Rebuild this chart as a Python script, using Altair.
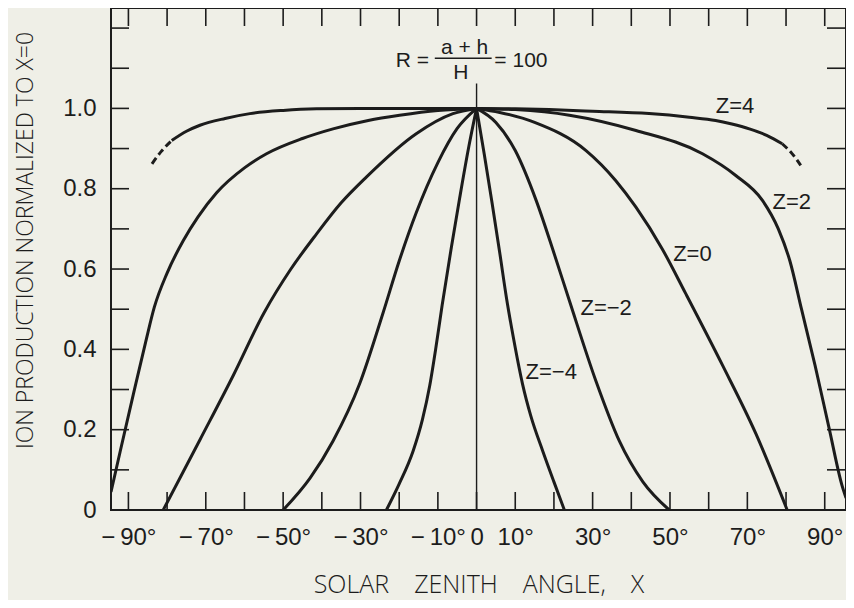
import altair as alt
import pandas as pd

INK = "#1c1c1c"
BG = "#efefe7"
NUM = "'Liberation Sans', Arial, sans-serif"
TITLE = "'Open Sans', 'DejaVu Sans', sans-serif"

# ---------------- data ----------------
x_ticks = [-90, -80, -70, -60, -50, -40, -30, -20, -10, 0, 10, 20, 30, 40, 50, 60, 70, 80, 90]
y_ticks = [0.1, 0.2, 0.3, 0.4, 0.5, 0.6, 0.7, 0.8, 0.9, 1.0, 1.1, 1.2]
x_label_values = [-90, -70, -50, -30, -10, 0, 10, 30, 50, 70, 90]
y_label_values = [0, 0.2, 0.4, 0.6, 0.8, 1.0]

# Z = 4 (solid middle part, dashed ends)
z4_x = [-78.8, -75, -71.5, -65, -58.6, -50, -41.4, -30, -15, 0, 10, 18.8, 30, 44.6, 55, 61.8, 66, 70.5, 75, 79]
z4_y = [0.920, 0.943, 0.958, 0.975, 0.987, 0.995, 0.999, 1.0, 1.0, 1.0, 0.999, 0.997, 0.993, 0.987, 0.978, 0.970, 0.961, 0.949, 0.933, 0.912]
z4_dash_left_x = [-83.9, -81.5, -78.8]
z4_dash_left_y = [0.862, 0.893, 0.920]
z4_dash_right_x = [79, 81.5, 83.8]
z4_dash_right_y = [0.912, 0.888, 0.858]

# Z = 2
z2_left_x = [-94.5, -92.1, -88.7, -85.5, -83.3, -80, -75.8, -72, -67.2, -60, -54.3, -45, -37.1, -28, -19.9, -10, 0]
z2_left_y = [0.045, 0.147, 0.289, 0.420, 0.505, 0.590, 0.671, 0.730, 0.790, 0.852, 0.887, 0.925, 0.949, 0.970, 0.983, 0.995, 1.0]
z2_right_x = [0, 10, 24, 41.2, 58.4, 67, 73.9, 78, 81, 84, 87.5, 91.1, 94.5, 95.5]
z2_right_y = [1.0, 0.997, 0.983, 0.945, 0.887, 0.833, 0.771, 0.700, 0.620, 0.500, 0.360, 0.205, 0.060, 0.030]

# Z = 0
z0_left_x = [-81, -71.5, -62.9, -55, -48, -41.4, -35, -28.5, -15.6, -6.1, 0]
z0_left_y = [0.0, 0.175, 0.335, 0.490, 0.600, 0.687, 0.765, 0.829, 0.937, 0.987, 1.0]
z0_right_x = [0, 6, 15, 28.3, 36, 41.2, 48, 54, 63.6, 72.2, 80.3]
z0_right_y = [1.0, 0.990, 0.965, 0.895, 0.820, 0.754, 0.650, 0.540, 0.360, 0.190, 0.0]

# Z = -2
zm2_left_x = [-50, -43, -37.1, -30.2, -24.2, -20, -15.6, -10, -5, 0]
zm2_left_y = [0.0, 0.080, 0.172, 0.315, 0.490, 0.620, 0.740, 0.865, 0.950, 1.0]
zm2_right_x = [0, 5, 10, 15.4, 20, 24, 30.9, 36.9, 43, 49.8]
zm2_right_y = [1.0, 0.965, 0.895, 0.771, 0.640, 0.521, 0.320, 0.172, 0.070, 0.0]

# Z = -4
zm4_left_x = [-23.3, -20, -16.4, -14, -12.1, -10.5, -8.9, -6.5, -4.4, -2, 0]
zm4_left_y = [0.0, 0.065, 0.147, 0.225, 0.310, 0.405, 0.510, 0.655, 0.775, 0.905, 1.0]
zm4_right_x = [0, 2, 4, 6, 7.7, 9.5, 11.9, 14, 17.1, 20, 22.7]
zm4_right_y = [1.0, 0.885, 0.765, 0.640, 0.530, 0.430, 0.313, 0.235, 0.147, 0.070, 0.0]

# curve labels
lab_text = ["Z=4", "Z=2", "Z=0", "Z=\u22122", "Z=\u22124"]
lab_x = [66.8, 81.5, 55.8, 33.5, 19.3]
lab_y = [1.006, 0.768, 0.637, 0.503, 0.344]

# formula R = (a+h)/H = 100
form_left_text = ["R ="]
form_left_x = [-12.3]
form_mid_text = ["a + h", "H"]
form_mid_x = [-3.1, -4.1]
form_mid_y = [1.150, 1.087]
form_right_text = ["= 100"]
form_right_x = [4.6]
form_row_y = [1.118]
bar_x = [-10.8]
bar_x2 = [3.9]
bar_y = [1.125]

center_x = [0]
center_y = [0]
center_y2 = [1.062]

# ---------------- build tables ----------------
solid_parts = [
    ("Z4", z4_x, z4_y),
    ("Z2L", z2_left_x, z2_left_y), ("Z2R", z2_right_x, z2_right_y),
    ("Z0L", z0_left_x, z0_left_y), ("Z0R", z0_right_x, z0_right_y),
    ("Zm2L", zm2_left_x, zm2_left_y), ("Zm2R", zm2_right_x, zm2_right_y),
    ("Zm4L", zm4_left_x, zm4_left_y), ("Zm4R", zm4_right_x, zm4_right_y),
]
dashed_parts = [
    ("Z4dL", z4_dash_left_x, z4_dash_left_y),
    ("Z4dR", z4_dash_right_x, z4_dash_right_y),
]


def to_df(parts):
    rows = []
    for name, xs_, ys_ in parts:
        for i, (a, b) in enumerate(zip(xs_, ys_)):
            rows.append({"part": name, "x": a, "y": b, "order": i})
    return pd.DataFrame(rows)


solid_df = to_df(solid_parts)
dashed_df = to_df(dashed_parts)

W, H = 735, 502
xs = alt.Scale(domain=[-94.5, 95.5], nice=False, zero=False)
ys = alt.Scale(domain=[0, 1.25], nice=False, zero=True)

x_axis = alt.Axis(
    values=x_label_values,
    labelExpr="datum.value == 0 ? '0' : (datum.value < 0 ? '\u2212\u2009' + abs(datum.value) + '\u00b0' : datum.value + '\u00b0')",
    ticks=False, domain=False, grid=False,
    labelFont=NUM, labelFontSize=24, labelColor=INK, labelPadding=15,
    labelFlush=False, labelOverlap=False,
    title="SOLAR\u2003ZENITH\u2003ANGLE,\u2003\u03a7",
    titleFont=TITLE, titleFontSize=25, titleFontWeight=300, titleColor=INK,
    titleY=87, titleBaseline="bottom",
)
y_axis = alt.Axis(
    values=y_label_values,
    labelExpr="datum.value == 0 ? '0' : format(datum.value, '.1f')",
    ticks=False, domain=False, grid=False,
    labelFont=NUM, labelFontSize=24, labelColor=INK, labelPadding=15,
    labelFlush=False, labelOverlap=False,
    title="ION PRODUCTION NORMALIZED TO \u03a7=0",
    titleFont=TITLE, titleFontSize=23, titleFontWeight=300, titleColor=INK,
    titleAngle=270, titleX=-86, titleY=232, titleBaseline="middle", titleAlign="center",
)

X = lambda f="x:Q": alt.X(f, scale=xs, axis=x_axis)
Y = lambda f="y:Q": alt.Y(f, scale=ys, axis=y_axis)

solid = alt.Chart(solid_df).mark_line(
    interpolate="monotone", color=INK, strokeWidth=3, clip=True
).encode(x=X(), y=Y(), detail="part:N", order="order:Q")

dashed = alt.Chart(dashed_df).mark_line(
    interpolate="monotone", color=INK, strokeWidth=3, strokeDash=[7, 4]
).encode(x=X(), y=Y(), detail="part:N", order="order:Q")

xt_df = pd.DataFrame({"x": x_ticks})
yt_df = pd.DataFrame({"y": y_ticks})
tick_len = 18

bottom_ticks = alt.Chart(xt_df).mark_rule(color=INK, strokeWidth=1.6).encode(
    x=X(), y=alt.value(H), y2=alt.value(H - tick_len))
top_ticks = alt.Chart(xt_df).mark_rule(color=INK, strokeWidth=1.6).encode(
    x=X(), y=alt.value(0), y2=alt.value(tick_len))
left_ticks = alt.Chart(yt_df).mark_rule(color=INK, strokeWidth=1.6).encode(
    y=Y(), x=alt.value(0), x2=alt.value(tick_len))
right_ticks = alt.Chart(yt_df).mark_rule(color=INK, strokeWidth=1.6).encode(
    y=Y(), x=alt.value(W), x2=alt.value(W - tick_len - 1))

center = alt.Chart(pd.DataFrame({"x": center_x, "y": center_y, "y2": center_y2})).mark_rule(
    color=INK, strokeWidth=1.4).encode(x=X(), y=Y(), y2="y2:Q")

bar = alt.Chart(pd.DataFrame({"x": bar_x, "x2": bar_x2, "y": bar_y})).mark_rule(
    color=INK, strokeWidth=1.4).encode(x=X(), x2="x2:Q", y=Y())

labels = alt.Chart(pd.DataFrame({"x": lab_x, "y": lab_y, "t": lab_text})).mark_text(
    font=NUM, fontSize=22, color=INK, align="center", baseline="middle").encode(
    x=X(), y=Y(), text="t:N")

f_left = alt.Chart(pd.DataFrame({"x": form_left_x, "y": form_row_y, "t": form_left_text})).mark_text(
    font=NUM, fontSize=21, color=INK, align="right", baseline="middle").encode(
    x=X(), y=Y(), text="t:N")
f_mid = alt.Chart(pd.DataFrame({"x": form_mid_x, "y": form_mid_y, "t": form_mid_text})).mark_text(
    font=NUM, fontSize=21, color=INK, align="center", baseline="middle").encode(
    x=X(), y=Y(), text="t:N")
f_right = alt.Chart(pd.DataFrame({"x": form_right_x, "y": form_row_y, "t": form_right_text})).mark_text(
    font=NUM, fontSize=21, color=INK, align="left", baseline="middle").encode(
    x=X(), y=Y(), text="t:N")

chart = alt.layer(
    solid, dashed, bottom_ticks, top_ticks, left_ticks, right_ticks, center, bar,
    labels, f_left, f_mid, f_right,
).properties(
    width=W, height=H,
    autosize=alt.AutoSizeParams(type="none"),
    padding={"left": 103, "top": 0, "right": 0, "bottom": 90},
    background=BG,
).configure_view(
    stroke=INK, strokeWidth=2,
)

chart.save("out.html", embed_options={"renderer": "svg", "actions": False})
